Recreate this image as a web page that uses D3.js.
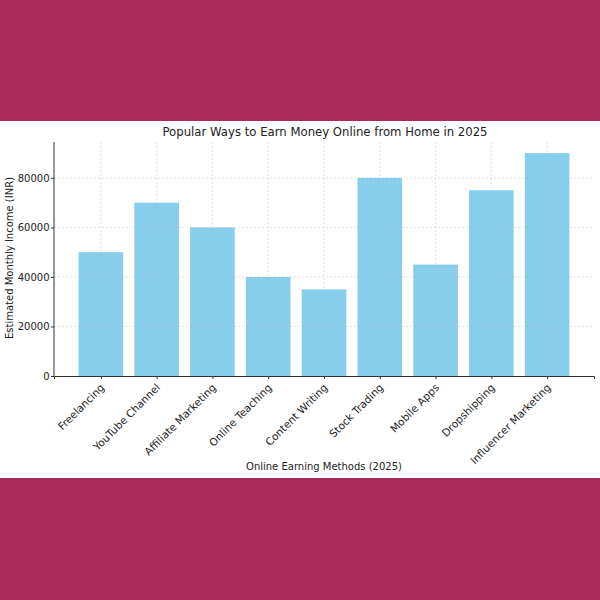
<!DOCTYPE html>
<html>
<head>
<meta charset="utf-8">
<script src="https://cdn.jsdelivr.net/npm/d3@7"></script>
<style>
  body { margin: 0; background: #a82b5a; }
  svg { display: block; font-family: "DejaVu Sans", sans-serif; }
</style>
</head>
<body>
<div id="chart"></div>
<script>
const methods = ["Freelancing", "YouTube Channel", "Affiliate Marketing", "Online Teaching",
  "Content Writing", "Stock Trading", "Mobile Apps", "Dropshipping", "Influencer Marketing"];
const income = [50000, 70000, 60000, 40000, 35000, 80000, 45000, 75000, 90000];
const yTicks = [0, 20000, 40000, 60000, 80000];

const svg = d3.select("#chart").append("svg")
  .attr("width", 600)
  .attr("height", 600);

// white panel between magenta bands
svg.append("rect")
  .attr("x", 0).attr("y", 121)
  .attr("width", 600).attr("height", 357)
  .attr("fill", "#ffffff");

const plotL = 54, plotR = 594, plotT = 142, plotB = 376;

// matplotlib-like: bars at 0..n-1, width .8, 5% margins
const n = methods.length;
const x = d3.scaleLinear()
  .domain([-0.4 - 0.044 * 10, n - 1 + 0.4 + 0.044 * 10])
  .range([plotL, plotR]);
const bw = x(0.8) - x(0);

const y = d3.scaleLinear()
  .domain([0, 94500])
  .range([plotB, plotT]);

const g = svg.append("g");

// bars
g.selectAll("rect.bar")
  .data(income)
  .join("rect")
  .attr("class", "bar")
  .attr("x", (d, i) => x(i) - bw / 2)
  .attr("y", d => y(d))
  .attr("width", bw)
  .attr("height", d => y(0) - y(d))
  .attr("fill", "#87ceeb");

// grid (drawn over bars, faint)
const grid = g.append("g")
  .attr("stroke", "#b0b0b0")
  .attr("stroke-width", 0.8)
  .attr("stroke-dasharray", "2,2")
  .attr("opacity", 0.4);

grid.selectAll("line.v")
  .data(methods)
  .join("line")
  .attr("class", "v")
  .attr("x1", (d, i) => x(i)).attr("x2", (d, i) => x(i))
  .attr("y1", plotT).attr("y2", plotB);

grid.selectAll("line.h")
  .data(yTicks.slice(1))
  .join("line")
  .attr("class", "h")
  .attr("x1", plotL).attr("x2", plotR)
  .attr("y1", d => y(d)).attr("y2", d => y(d));

// axes
const yAxis = g.append("g")
  .attr("transform", `translate(${plotL},0)`)
  .call(d3.axisLeft(y).tickValues(yTicks).tickFormat(d3.format("d")).tickSizeOuter(0).tickSize(3).tickPadding(1.5));

const xAxis = g.append("g")
  .attr("transform", `translate(0,${plotB})`)
  .call(d3.axisBottom(x).tickValues(d3.range(n)).tickFormat("").tickSizeOuter(0).tickSize(3));

[yAxis, xAxis].forEach(a => {
  a.select(".domain").attr("stroke", "#333").attr("stroke-width", 1);
  a.selectAll(".tick line").attr("stroke", "#333");
  a.selectAll("text").attr("fill", "#222").attr("font-size", 10).attr("font-family", "DejaVu Sans");
});
yAxis.select(".domain").attr("d", `M0,${plotT}V${plotB}`);

// rotated category labels
g.selectAll("text.cat")
  .data(methods)
  .join("text")
  .attr("class", "cat")
  .attr("text-anchor", "end")
  .attr("font-size", 10.5)
  .attr("fill", "#222")
  .attr("transform", (d, i) => `translate(${x(i) - 1},${plotB + 7}) rotate(-45)`)
  .attr("dy", "0.7em")
  .text(d => d);

// title and axis labels
svg.append("text")
  .attr("x", (plotL + plotR) / 2 + 1)
  .attr("y", 136)
  .attr("text-anchor", "middle")
  .attr("font-size", 11.7)
  .attr("fill", "#222")
  .text("Popular Ways to Earn Money Online from Home in 2025");

svg.append("text")
  .attr("x", (plotL + plotR) / 2)
  .attr("y", 470)
  .attr("text-anchor", "middle")
  .attr("font-size", 10)
  .attr("fill", "#222")
  .text("Online Earning Methods (2025)");

svg.append("text")
  .attr("transform", `translate(13,258) rotate(-90)`)
  .attr("text-anchor", "middle")
  .attr("font-size", 10)
  .attr("fill", "#222")
  .text("Estimated Monthly Income (INR)");
</script>
</body>
</html>
